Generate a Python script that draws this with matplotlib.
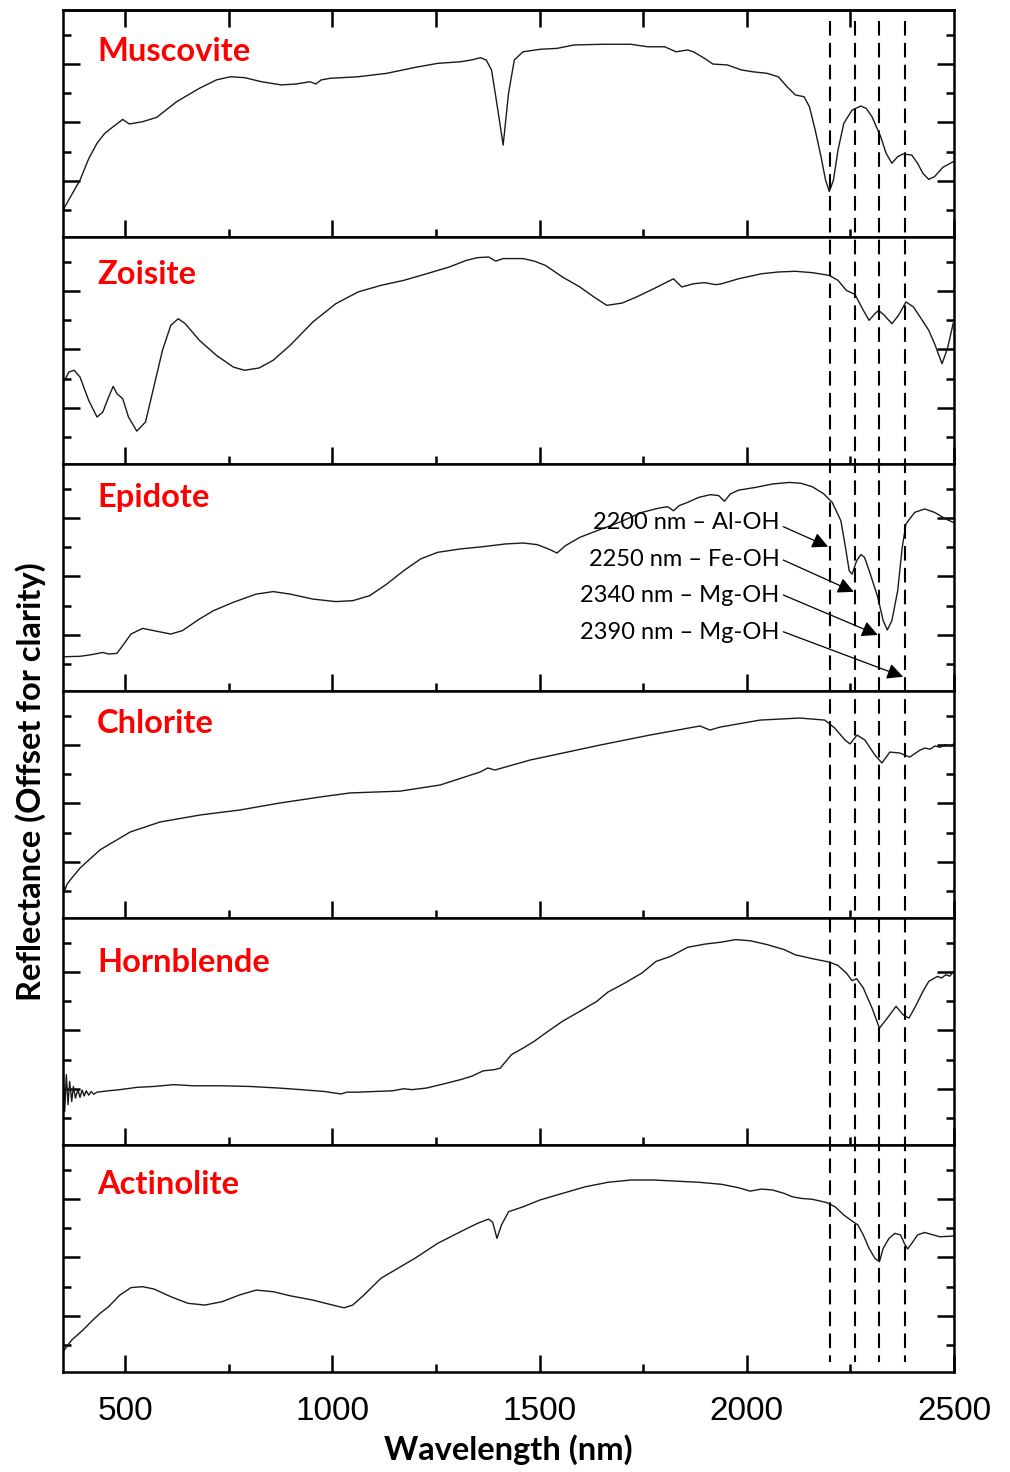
import matplotlib
matplotlib.use("Agg")
import matplotlib.pyplot as plt
from matplotlib.lines import Line2D
from matplotlib.transforms import blended_transform_factory

plt.rcParams['font.family'] = ['Lato', 'DejaVu Sans']

# spectra, offset reflectance in arbitrary units (0-100 per panel)
musc_wl = [350, 391, 412, 432, 450, 466, 487, 494, 510, 542, 576, 624, 679, 720, 754, 788, 829, 877, 912, 946, 960,
           973, 994, 1062, 1131, 1199, 1254, 1309, 1336, 1357, 1371, 1384, 1398, 1412, 1425, 1439, 1460,
           1501, 1542, 1583, 1651, 1720, 1761, 1802, 1829, 1857, 1871, 1898, 1918, 1953, 1987, 2014, 2049,
           2076, 2097, 2117, 2138, 2151, 2165, 2179, 2190, 2199, 2209, 2220, 2234, 2254, 2275, 2288, 2302,
           2323, 2336, 2350, 2364, 2377, 2398, 2412, 2425, 2439, 2453, 2473, 2498]
musc_r = [11.9, 25.1, 34.5, 41.3, 45.5, 47.9, 50.8, 51.8, 49.8, 50.8, 52.7, 59.6, 65.5, 69.2, 70.6, 70.2, 68.4, 67.0,
          67.4, 68.4, 67.4, 69.2, 69.9, 70.6, 72.1, 74.7, 76.5, 77.2, 78.0, 79.0, 78.0, 73.6, 57.4, 40.5,
          63.3, 78.0, 81.6, 82.7, 83.1, 84.6, 84.9, 84.9, 83.8, 83.8, 81.6, 82.4, 81.6, 78.7, 76.2, 75.8,
          73.6, 72.8, 72.1, 70.6, 66.2, 62.6, 61.8, 57.4, 47.1, 35.4, 25.1, 20.0, 25.1, 38.3, 50.1, 55.9,
          57.7, 56.7, 53.0, 44.2, 36.9, 32.5, 35.4, 36.6, 36.1, 32.5, 28.0, 25.4, 26.6, 30.7, 33.2]

zois_wl = [350, 364, 377, 391, 412, 432, 446, 460, 471, 480, 494, 508, 528, 549, 569, 590, 610, 628, 645,
           679, 720, 761, 788, 823, 857, 898, 953, 1008, 1062, 1117, 1172, 1227, 1282, 1323, 1350, 1377,
           1394, 1412, 1460, 1487, 1514, 1555, 1597, 1631, 1662, 1699, 1734, 1775, 1823, 1843, 1871, 1898,
           1925, 1939, 1980, 2035, 2076, 2117, 2158, 2199, 2220, 2240, 2261, 2279, 2295, 2309, 2318, 2332,
           2350, 2366, 2384, 2402, 2418, 2439, 2453, 2471, 2484, 2498]
zois_r = [35.4, 40.5, 41.3, 38.3, 28.0, 20.7, 22.9, 29.5, 34.2, 31.0, 28.8, 20.7, 14.5, 18.5, 33.9, 50.1,
          61.1, 64.0, 61.8, 54.5, 47.9, 42.7, 41.3, 42.3, 45.7, 52.3, 62.6, 70.6, 75.8, 78.7, 80.9, 83.8,
          86.8, 89.7, 90.9, 91.2, 89.4, 90.5, 90.5, 89.4, 87.5, 82.4, 78.0, 73.6, 69.9, 70.9, 73.6, 77.2,
          81.6, 78.0, 79.4, 79.9, 79.0, 79.4, 81.6, 83.8, 84.6, 84.9, 84.3, 83.1, 80.9, 76.5, 74.7, 68.4,
          63.3, 66.2, 67.7, 65.5, 61.8, 65.5, 71.4, 69.2, 64.8, 58.9, 53.0, 44.2, 50.8, 62.0]

epid_wl = [350, 391, 418, 446, 460, 480, 494, 514, 542, 569, 610, 638, 679, 713, 761, 816, 857, 898, 953,
           1008, 1049, 1090, 1131, 1172, 1213, 1254, 1309, 1364, 1418, 1460, 1494, 1521, 1542, 1562, 1597,
           1638, 1692, 1747, 1788, 1809, 1823, 1836, 1857, 1884, 1912, 1932, 1946, 1960, 1980, 2021, 2062,
           2103, 2131, 2158, 2186, 2206, 2227, 2238, 2247, 2254, 2265, 2275, 2284, 2298, 2316, 2329, 2339,
           2350, 2364, 2375, 2384, 2405, 2429, 2453, 2480, 2498]
epid_r = [15.1, 15.3, 16.0, 17.0, 16.3, 16.6, 20.0, 25.1, 27.6, 26.6, 25.1, 26.6, 31.7, 35.4, 39.1, 42.7,
          43.8, 42.7, 40.5, 39.4, 39.8, 42.0, 47.1, 53.0, 58.2, 61.1, 62.6, 63.6, 64.8, 65.2, 64.5, 62.6,
          60.8, 64.0, 67.7, 70.6, 74.3, 78.7, 80.6, 81.2, 79.4, 81.6, 83.1, 85.3, 86.5, 86.1, 83.6, 86.8,
          88.5, 89.7, 91.2, 91.9, 91.5, 90.0, 86.8, 83.1, 75.0, 63.3, 53.0, 51.5, 57.4, 60.1, 58.9, 51.5,
          41.3, 31.0, 26.9, 31.0, 44.2, 63.3, 73.6, 78.7, 80.2, 78.7, 75.8, 74.3]

chlo_wl = [350, 355, 360, 367, 391, 439, 512, 584, 681, 777, 874, 970, 1042, 1163, 1260, 1356, 1375, 1392,
           1477, 1646, 1766, 1887, 1911, 1935, 2032, 2128, 2188, 2212, 2237, 2249, 2266, 2285, 2309, 2326,
           2345, 2369, 2393, 2418, 2430, 2442, 2454, 2466, 2478, 2490, 2500]
chlo_r = [15.5, 12.5, 15.0, 16.7, 22.0, 30.0, 37.9, 42.3, 45.4, 47.6, 50.7, 53.3, 55.1, 55.9, 58.6, 64.3,
          66.1, 65.2, 69.6, 76.2, 80.6, 84.6, 82.8, 84.1, 87.2, 88.1, 87.2, 83.7, 78.4, 76.7, 80.6, 78.4,
          71.8, 68.3, 73.1, 72.7, 70.9, 74.0, 74.9, 74.4, 75.8, 75.2, 76.4, 75.9, 76.7]

horn_wl = [350, 354, 358, 362, 366, 371, 375, 380, 386, 391, 396, 401, 406, 412, 418, 424, 432, 460, 487,
           528, 569, 617, 665, 734, 802, 871, 925, 980, 1021, 1035, 1062, 1103, 1145, 1172, 1192, 1227, 1268,
           1309, 1336, 1364, 1391, 1405, 1432, 1460, 1487, 1514, 1555, 1597, 1638, 1665, 1706, 1747, 1781,
           1816, 1857, 1898, 1939, 1973, 2008, 2049, 2090, 2117, 2158, 2199, 2220, 2240, 2254, 2265, 2281,
           2302, 2320, 2336, 2360, 2377, 2391, 2405, 2425, 2439, 2460, 2470, 2480, 2490, 2498]
horn_r = [36.9, 14.8, 31.0, 17.8, 28.0, 19.2, 25.8, 20.7, 24.4, 21.0, 24.2, 21.6, 23.9, 22.0, 23.6, 22.4,
          23.3, 23.9, 24.4, 25.4, 25.8, 26.6, 26.1, 26.1, 25.8, 25.1, 24.4, 23.6, 22.5, 23.3, 23.3, 23.6,
          23.9, 24.8, 24.4, 25.1, 26.9, 28.8, 30.3, 32.7, 33.2, 33.9, 39.8, 42.7, 45.7, 49.3, 54.5, 58.9,
          63.3, 67.4, 71.4, 75.8, 80.9, 83.1, 87.1, 88.5, 89.4, 90.5, 90.0, 88.3, 86.1, 83.8, 82.1, 80.6,
          79.1, 75.8, 72.4, 73.3, 69.2, 60.4, 51.5, 55.2, 61.1, 57.4, 55.9, 60.4, 67.7, 72.1, 74.3, 73.6,
          75.0, 74.4, 76.5]

acti_wl = [350, 371, 398, 418, 439, 460, 487, 514, 542, 569, 610, 651, 692, 734, 775, 816, 857, 898, 953,
           994, 1028, 1049, 1076, 1117, 1158, 1199, 1254, 1309, 1350, 1377, 1387, 1397, 1408, 1425, 1460,
           1501, 1555, 1610, 1665, 1720, 1775, 1829, 1884, 1939, 1980, 2008, 2035, 2062, 2090, 2110, 2131,
           2158, 2192, 2213, 2234, 2254, 2268, 2281, 2295, 2309, 2320, 2329, 2343, 2357, 2371, 2380, 2388,
           2398, 2412, 2429, 2446, 2466, 2498]
acti_r = [9.0, 14.1, 18.5, 22.2, 25.8, 28.8, 33.9, 37.2, 37.6, 36.6, 33.2, 30.3, 29.5, 31.0, 33.9, 36.1,
          35.4, 33.6, 31.7, 29.8, 28.3, 29.5, 33.9, 41.3, 45.7, 50.1, 56.7, 61.8, 65.5, 67.4, 65.9, 58.9,
          64.8, 70.6, 72.8, 75.8, 78.7, 81.6, 83.6, 84.6, 84.6, 84.1, 83.6, 82.7, 81.2, 79.7, 80.6, 80.2,
          78.7, 77.2, 76.5, 76.1, 74.7, 72.8, 69.2, 66.5, 64.8, 60.4, 54.5, 50.1, 48.6, 54.5, 58.9, 61.1,
          60.4, 56.7, 54.2, 56.7, 60.4, 61.5, 60.6, 59.6, 59.9]

names = ['Muscovite', 'Zoisite', 'Epidote', 'Chlorite', 'Hornblende', 'Actinolite']
spectra = [(musc_wl, musc_r), (zois_wl, zois_r), (epid_wl, epid_r),
           (chlo_wl, chlo_r), (horn_wl, horn_r), (acti_wl, acti_r)]
label_y = [0.775, 0.793, 0.811, 0.815, 0.762, 0.784]

# absorption features marked by dashed lines
feature_wl = [2200, 2262, 2320, 2381]
feature_txt = ['2200 nm \u2013 Al-OH', '2250 nm \u2013 Fe-OH', '2340 nm \u2013 Mg-OH', '2390 nm \u2013 Mg-OH']
txt_r = [74.2, 58.0, 41.9, 26.0]
arrow_start_r = [72.4, 57.7, 42.3, 26.1]
arrow_tip_r = [63.6, 43.7, 24.7, 6.3]

fig, axes = plt.subplots(6, 1, sharex=True, figsize=(10.1, 14.72), dpi=100)
fig.subplots_adjust(left=0.0624, right=0.9446, bottom=0.0679, top=0.9932, hspace=0)

for i, ax in enumerate(axes):
    wl, r = spectra[i]
    ax.plot(wl, r, color='#1a1a1a', lw=1.0, solid_joinstyle='round')
    ax.set_xlim(350, 2500)
    ax.set_ylim(0, 100)
    ax.set_yticks([24.8, 50.5, 76.2])
    ax.set_yticks([11.9, 37.6, 63.4, 89.0], minor=True)
    ax.set_xticks([500, 1000, 1500, 2000, 2500])
    ax.set_xticks([750, 1250, 1750, 2250], minor=True)
    ax.tick_params(which='both', direction='in', left=True, right=True, top=False,
                   labelleft=False, labelbottom=False, width=1.8)
    ax.tick_params(which='major', length=12)
    ax.tick_params(which='minor', length=6)
    for s in ax.spines.values():
        s.set_linewidth(1.8)
    ax.text(0.038, label_y[i], names[i], transform=ax.transAxes, color='red',
            fontsize=23.5, fontweight='bold', ha='left', va='baseline')

top = axes[0].secondary_xaxis('top')
top.set_xticks([500, 750, 1000, 1250, 1500, 1750, 2000, 2250])
top.tick_params(direction='in', length=12, width=1.8, labeltop=False)
top.spines['top'].set_linewidth(1.8)

bot = axes[-1]
bot.tick_params(labelbottom=True, labelsize=24, pad=17)
for lab in bot.get_xticklabels():
    lab.set_family(['Liberation Sans', 'DejaVu Sans'])

ep = axes[2]
for k in range(4):
    ep.text(2079, txt_r[k], feature_txt[k], ha='right', va='center', fontsize=17, color='black')
    ep.annotate('', xy=(feature_wl[k] - 4, arrow_tip_r[k]), xytext=(2088, arrow_start_r[k]),
                arrowprops=dict(arrowstyle='-|>', color='black', lw=0.9, mutation_scale=24,
                                shrinkA=0, shrinkB=0))

trans = blended_transform_factory(bot.transData, fig.transFigure)
for w in feature_wl:
    fig.add_artist(Line2D([w, w], [1 - 21 / 1472, 1 - 1362 / 1472], transform=trans,
                          color='black', lw=1.5, dashes=(7, 3.5)))

fig.text(0.503, 0.015, 'Wavelength (nm)', ha='center', va='center', fontsize=23.5, fontweight='bold')
fig.text(0.030, 0.469, 'Reflectance (Offset for clarity)', ha='center', va='center',
         rotation=90, fontsize=23.5, fontweight='bold')

plt.savefig('out.png', dpi=100)
